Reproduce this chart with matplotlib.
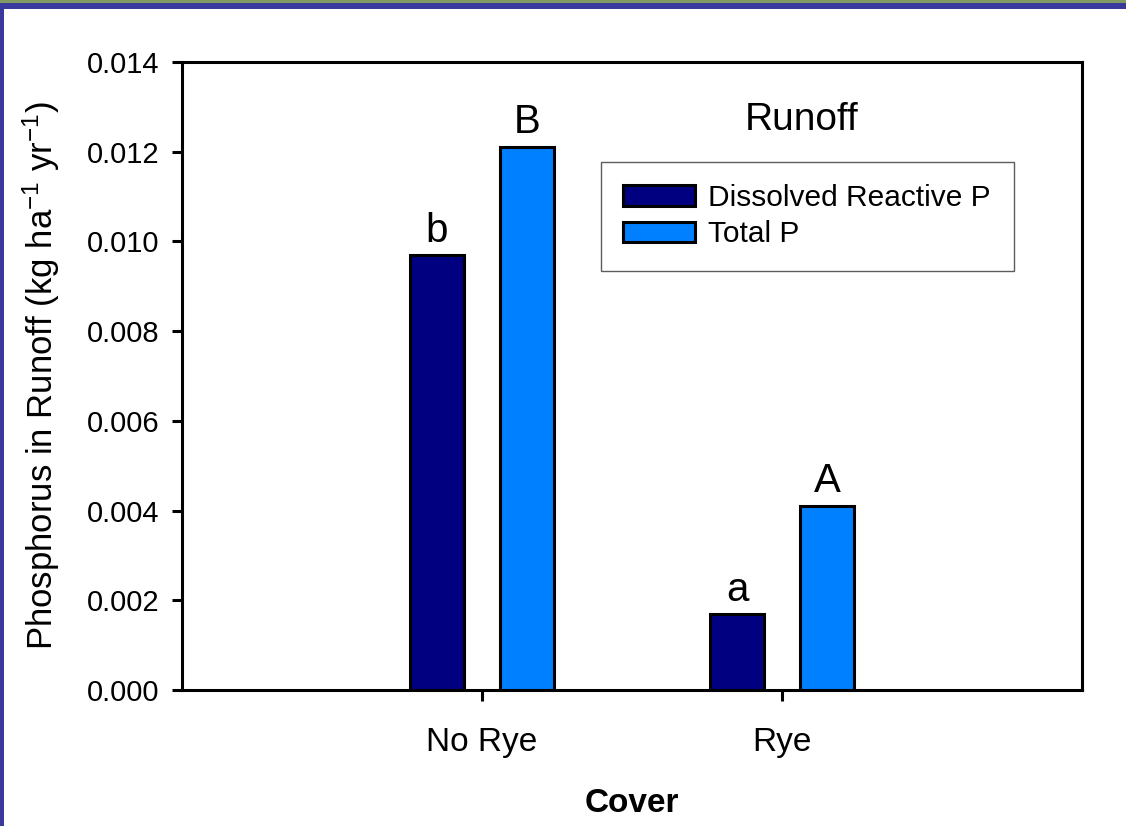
import matplotlib
matplotlib.use("Agg")
import matplotlib.pyplot as plt
from matplotlib.patches import Rectangle, Patch
import numpy as np

plt.rcParams['font.family'] = ['Liberation Sans', 'DejaVu Sans']
plt.rcParams['mathtext.fontset'] = 'custom'
plt.rcParams['mathtext.rm'] = 'Liberation Sans'
plt.rcParams['mathtext.it'] = 'Liberation Sans:italic'
plt.rcParams['mathtext.bf'] = 'Liberation Sans:bold'

categories = ["No Rye", "Rye"]
series_names = ["Dissolved Reactive P", "Total P"]
drp = [0.0097, 0.0017]
total_p = [0.0121, 0.0041]
drp_letters = ["b", "a"]
tp_letters = ["B", "A"]
yticks = [0.000, 0.002, 0.004, 0.006, 0.008, 0.010, 0.012, 0.014]

W, H = 1126, 826
fig = plt.figure(figsize=(W / 100, H / 100), dpi=100)
fig.patch.set_facecolor('white')

# border decorations
fig.patches.append(Rectangle((0, 1 - 3 / H), 1, 3 / H, transform=fig.transFigure,
                             facecolor='#7f9a63', edgecolor='none', zorder=0))
fig.patches.append(Rectangle((0, 1 - 9 / H), 1, 6 / H, transform=fig.transFigure,
                             facecolor='#3a3a9c', edgecolor='none', zorder=0))
fig.patches.append(Rectangle((0, 0), 4 / W, 1 - 3 / H, transform=fig.transFigure,
                             facecolor='#3a3a9c', edgecolor='none', zorder=0))

ax = fig.add_axes([182 / W, 1 - 690 / H, 900 / W, 628 / H])

x = np.arange(len(categories))
width = 0.183
off = 0.15
dark = '#000080'
light = '#0080ff'
b1 = ax.bar(x - off, drp, width, color=dark, edgecolor='black', linewidth=2.2, zorder=3)
b2 = ax.bar(x + off, total_p, width, color=light, edgecolor='black', linewidth=2.2, zorder=3)

for xi, v, t in zip(x - off, drp, drp_letters):
    ax.annotate(t, (xi, v), xytext=(0, 9), textcoords='offset points',
                ha='center', va='baseline', fontsize=29)
for xi, v, t in zip(x + off, total_p, tp_letters):
    ax.annotate(t, (xi, v), xytext=(0, 10), textcoords='offset points',
                ha='center', va='baseline', fontsize=29)

ax.set_xlim(-1, 2)
ax.set_ylim(0, 0.014)
ax.set_yticks(yticks)
ax.set_yticklabels([f"{t:.3f}" for t in yticks])
ax.set_xticks(x)
ax.set_xticklabels(categories)

for s in ax.spines.values():
    s.set_linewidth(2.2)
ax.tick_params(axis='y', direction='out', length=7, width=2.2, pad=9, labelsize=21)
ax.tick_params(axis='x', direction='out', length=8, width=2.2, pad=19, labelsize=24)

ax.set_xlabel("Cover", fontsize=24, fontweight='bold', labelpad=21)
ax.set_ylabel(r"Phosphorus in Runoff (kg ha$^{-1}$ yr$^{-1}$)", fontsize=25)
ax.yaxis.set_label_coords(-0.133, 0.5)

ax.text(0.689, 0.892, "Runoff", transform=ax.transAxes, ha='center', va='baseline',
        fontsize=28)

handles = [Patch(facecolor=dark, edgecolor='black', linewidth=2.2),
           Patch(facecolor=light, edgecolor='black', linewidth=2.2)]
leg = ax.legend(handles, series_names, loc='upper left',
                bbox_to_anchor=(601 / W, 1 - 162 / H), bbox_transform=fig.transFigure,
                fontsize=21.5, frameon=True, fancybox=False, borderaxespad=0,
                borderpad=0.75, handlelength=2.4, handleheight=0.7,
                handletextpad=0.45, labelspacing=0.27)
leg.get_frame().set_edgecolor('#333333')
leg.get_frame().set_linewidth(1.0)

fig.savefig("out.png", dpi=100, facecolor=fig.get_facecolor())
